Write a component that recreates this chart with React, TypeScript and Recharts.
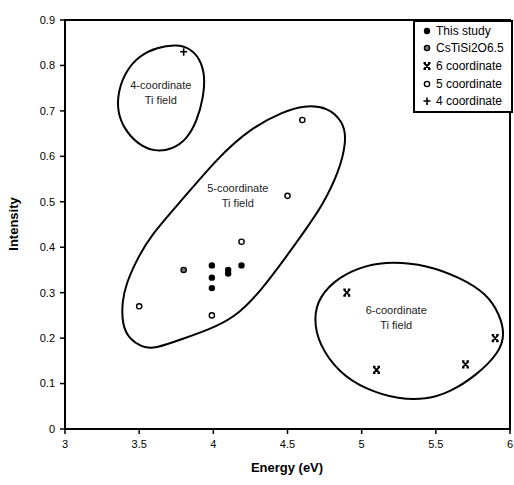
import { Legend, ReferenceArea, ReferenceDot, Scatter, ScatterChart, XAxis, YAxis } from "recharts";

type Pt = { x: number; y: number };

const xTicks = [3, 3.5, 4, 4.5, 5, 5.5, 6];
const yTicks = [0, 0.1, 0.2, 0.3, 0.4, 0.5, 0.6, 0.7, 0.8, 0.9];

// measured points
const thisStudy: Pt[] = [
  { x: 3.99, y: 0.36 },
  { x: 3.99, y: 0.333 },
  { x: 3.99, y: 0.31 },
  { x: 4.1, y: 0.35 },
  { x: 4.1, y: 0.342 },
  { x: 4.19, y: 0.36 },
];
const csTiSi2O65: Pt[] = [{ x: 3.8, y: 0.35 }];
const sixCoord: Pt[] = [
  { x: 4.9, y: 0.3 },
  { x: 5.1, y: 0.13 },
  { x: 5.7, y: 0.142 },
  { x: 5.9, y: 0.2 },
];
const fiveCoord: Pt[] = [
  { x: 3.5, y: 0.27 },
  { x: 3.99, y: 0.25 },
  { x: 4.19, y: 0.412 },
  { x: 4.5, y: 0.513 },
  { x: 4.6, y: 0.68 },
];
const fourCoord: Pt[] = [{ x: 3.8, y: 0.83 }];

// hand drawn field boundaries (closed loops)
const field4: Pt[] = [
  { x: 3.753, y: 0.846 }, { x: 3.841, y: 0.838 }, { x: 3.908, y: 0.816 }, { x: 3.945, y: 0.778 },
  { x: 3.932, y: 0.728 }, { x: 3.89, y: 0.678 }, { x: 3.821, y: 0.637 }, { x: 3.72, y: 0.615 },
  { x: 3.605, y: 0.61 }, { x: 3.488, y: 0.627 }, { x: 3.4, y: 0.66 }, { x: 3.352, y: 0.699 },
  { x: 3.359, y: 0.745 }, { x: 3.414, y: 0.79 }, { x: 3.504, y: 0.822 }, { x: 3.619, y: 0.84 },
];
const field5: Pt[] = [
  { x: 4.61, y: 0.712 }, { x: 4.77, y: 0.709 }, { x: 4.875, y: 0.676 }, { x: 4.9, y: 0.636 },
  { x: 4.845, y: 0.563 }, { x: 4.73, y: 0.489 }, { x: 4.62, y: 0.438 }, { x: 4.52, y: 0.392 },
  { x: 4.32, y: 0.303 }, { x: 4.14, y: 0.244 }, { x: 3.97, y: 0.219 }, { x: 3.8, y: 0.199 },
  { x: 3.6, y: 0.176 }, { x: 3.52, y: 0.18 }, { x: 3.432, y: 0.198 }, { x: 3.385, y: 0.23 },
  { x: 3.385, y: 0.281 }, { x: 3.413, y: 0.32 }, { x: 3.48, y: 0.37 }, { x: 3.577, y: 0.426 },
  { x: 3.8, y: 0.508 }, { x: 4.027, y: 0.596 }, { x: 4.25, y: 0.662 }, { x: 4.477, y: 0.699 },
];
const field6: Pt[] = [
  { x: 5.206, y: 0.368 }, { x: 5.435, y: 0.361 }, { x: 5.66, y: 0.334 }, { x: 5.843, y: 0.298 },
  { x: 5.93, y: 0.252 }, { x: 5.965, y: 0.209 }, { x: 5.93, y: 0.169 }, { x: 5.775, y: 0.118 },
  { x: 5.59, y: 0.08 }, { x: 5.435, y: 0.065 }, { x: 5.253, y: 0.065 }, { x: 5.028, y: 0.087 },
  { x: 4.846, y: 0.124 }, { x: 4.71, y: 0.187 }, { x: 4.677, y: 0.243 }, { x: 4.71, y: 0.29 },
  { x: 4.846, y: 0.335 }, { x: 5.031, y: 0.361 },
];

const fieldLabels = [
  { x: 3.646, y: 0.742, text: ["4-coordinate", "Ti field"] },
  { x: 4.165, y: 0.516, text: ["5-coordinate", "Ti field"] },
  { x: 5.233, y: 0.246, text: ["6-coordinate", "Ti field"] },
];

const legendNames = ["This study", "CsTiSi2O6.5", "6 coordinate", "5 coordinate", "4 coordinate"];
const legendKinds = ["dot", "grey", "cross", "ring", "plus"];

const FONT = "'Liberation Sans', Arial, sans-serif";

function Marker({ kind, cx, cy }: { kind: string; cx: number; cy: number }) {
  if (kind === "dot") return <circle cx={cx} cy={cy} r={3.2} fill="#000" />;
  if (kind === "grey")
    return <circle cx={cx} cy={cy} r={2.6} fill="#777" stroke="#000" strokeWidth={1.4} />;
  if (kind === "ring")
    return <circle cx={cx} cy={cy} r={2.6} fill="#fff" stroke="#000" strokeWidth={1.4} />;
  if (kind === "plus")
    return (
      <path
        d={`M${cx - 3.5},${cy}H${cx + 3.5}M${cx},${cy - 3.5}V${cy + 4}`}
        stroke="#000"
        strokeWidth={1.6}
      />
    );
  return (
    <path
      d={`M${cx - 3},${cy - 3}L${cx + 3},${cy + 3}M${cx + 3},${cy - 3}L${cx - 3},${cy + 3}M${cx - 3.5},${cy - 3.2}H${cx - 1}M${cx + 1},${cy - 3.2}H${cx + 3.5}M${cx - 3.5},${cy + 3.2}H${cx - 1}M${cx + 1},${cy + 3.2}H${cx + 3.5}`}
      stroke="#000"
      strokeWidth={1.8}
    />
  );
}

const shapeOf = (kind: string) => (p: any) => <Marker kind={kind} cx={p.cx} cy={p.cy} />;
const noShape = () => <g />;
const outline = { stroke: "#000", strokeWidth: 2, fill: "none" };

function LegendBox() {
  return (
    <div
      style={{
        border: "2px solid #000",
        background: "#fff",
        padding: "0px 6px 1px 7px",
        width: 83,
        fontFamily: FONT,
        fontSize: 12,
        color: "#000",
      }}
    >
      {legendNames.map((n, i) => (
        <div key={n} style={{ display: "flex", alignItems: "center", height: 17.6, whiteSpace: "nowrap" }}>
          <svg width={10} height={10} style={{ marginRight: 4 }}>
            <Marker kind={legendKinds[i]} cx={5} cy={5} />
          </svg>
          {n}
        </div>
      ))}
    </div>
  );
}

export default function App() {
  const tick = { fill: "#000", fontSize: 11, fontFamily: FONT };
  return (
    <div style={{ position: "fixed", left: 0, top: 0, width: 514, height: 485, background: "#fff" }}>
      <ScatterChart width={514} height={485} margin={{ top: 20, right: 4, bottom: 18, left: 20 }}>
        <XAxis
          type="number"
          dataKey="x"
          domain={[3, 6]}
          ticks={xTicks}
          tick={tick}
          tickSize={5}
          tickMargin={6}
          height={38}
          axisLine={{ stroke: "#000", strokeWidth: 2 }}
          tickLine={{ stroke: "#000", strokeWidth: 1.5 }}
          allowDataOverflow
          label={{
            content: () => (
              <text x={287} y={472} textAnchor="middle" fontFamily={FONT} fontSize={13} fontWeight="bold" fill="#000">
                Energy (eV)
              </text>
            ),
          }}
        />
        <YAxis
          type="number"
          dataKey="y"
          domain={[0, 0.9]}
          ticks={yTicks}
          tick={tick}
          tickSize={5}
          tickMargin={5}
          width={45}
          axisLine={{ stroke: "#000", strokeWidth: 2 }}
          tickLine={{ stroke: "#000", strokeWidth: 1.5 }}
          allowDataOverflow
          label={{
            content: () => (
              <text
                x={18}
                y={224}
                transform="rotate(-90 18 224)"
                textAnchor="middle"
                fontFamily={FONT}
                fontSize={13}
                fontWeight="bold"
                fill="#000"
              >
                Intensity
              </text>
            ),
          }}
        />
        <ReferenceArea x1={3} x2={6} y1={0} y2={0.9} fill="none" stroke="#000" strokeWidth={2} />
        <Scatter data={field4} line={outline} lineJointType="basisClosed" shape={noShape} legendType="none" isAnimationActive={false} />
        <Scatter data={field5} line={outline} lineJointType="basisClosed" shape={noShape} legendType="none" isAnimationActive={false} />
        <Scatter data={field6} line={outline} lineJointType="basisClosed" shape={noShape} legendType="none" isAnimationActive={false} />
        <Scatter name="This study" data={thisStudy} shape={shapeOf("dot")} isAnimationActive={false} />
        <Scatter name="CsTiSi2O6.5" data={csTiSi2O65} shape={shapeOf("grey")} isAnimationActive={false} />
        <Scatter name="6 coordinate" data={sixCoord} shape={shapeOf("cross")} isAnimationActive={false} />
        <Scatter name="5 coordinate" data={fiveCoord} shape={shapeOf("ring")} isAnimationActive={false} />
        <Scatter name="4 coordinate" data={fourCoord} shape={shapeOf("plus")} isAnimationActive={false} />
        {fieldLabels.map((f) => (
          <ReferenceDot
            key={f.text[0]}
            x={f.x}
            y={f.y}
            r={0}
            shape={(p: any) => (
              <text x={p.cx} y={p.cy} textAnchor="middle" fontFamily={FONT} fontSize={11} fill="#222">
                <tspan x={p.cx} dy={-3}>{f.text[0]}</tspan>
                <tspan x={p.cx} dy={15}>{f.text[1]}</tspan>
              </text>
            )}
          />
        ))}
        <Legend
          layout="vertical"
          align="center"
          verticalAlign="middle"
          wrapperStyle={{ top: 20, left: 413, width: "auto" }}
          content={() => <LegendBox />}
        />
      </ScatterChart>
    </div>
  );
}
